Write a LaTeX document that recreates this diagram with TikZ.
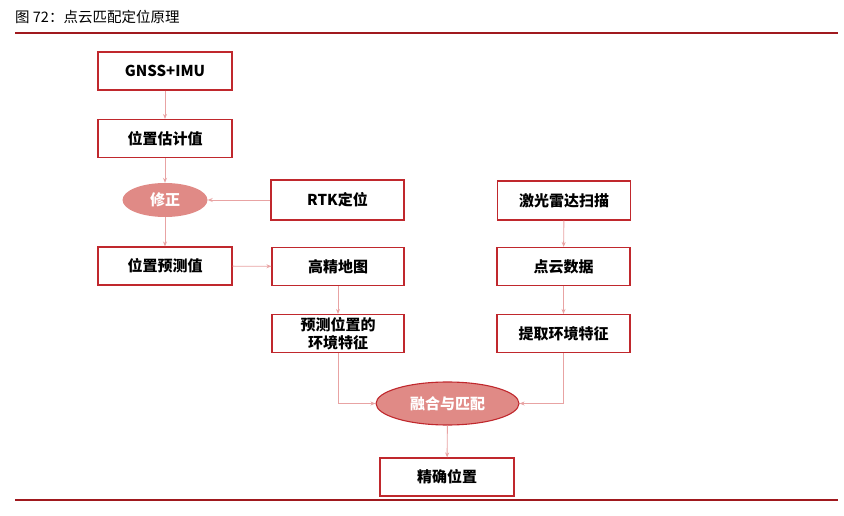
\documentclass[tikz,border=0pt]{standalone}
\usepackage{fontspec}
\setmainfont{Liberation Sans}
\newfontfamily\cjk{Noto Sans CJK SC}
\usetikzlibrary{shapes.geometric,arrows.meta}
\definecolor{boxred}{HTML}{C0282D}
\definecolor{linered}{HTML}{A0191E}
\definecolor{arrpink}{HTML}{E8A3A3}
\definecolor{ellfill}{HTML}{E08A86}
\tikzset{
  box/.style={draw=boxred, line width=1.1pt, minimum width=134pt, minimum height=38pt, inner sep=1pt, align=center, font=\cjk\bfseries\fontsize{15}{18}\selectfont, text=black},
  oval/.style={ellipse, fill=ellfill, inner sep=0pt, text=white, font=\cjk\bfseries\fontsize{15}{18}\selectfont},
  conn/.style={draw=arrpink, line width=0.9pt, -{Stealth[length=5pt,width=4pt]}},
}
\begin{document}
\begin{tikzpicture}[x=1pt,y=-1pt]
\useasboundingbox (0,0) rectangle (844,516);
\node[anchor=west, font=\cjk\fontsize{14.5}{17}\selectfont, inner sep=0pt] (title) at (15,17) {图 72：点云匹配定位原理};
\coordinate (tl1) at (15,33); \coordinate (tl2) at (838,33);
\coordinate (bl1) at (15,500); \coordinate (bl2) at (838,500);
\draw[linered, line width=1.6pt] (tl1) -- (tl2);
\draw[linered, line width=1.6pt] (bl1) -- (bl2);

\node[box] (gnss) at (165,71) {GNSS+IMU};
\node[box] (est) at (165,138.5) {位置估计值};
\node[oval, minimum width=85pt, minimum height=34pt] (fix) at (165,200) {修正};
\node[box, minimum width=133pt, minimum height=40pt] (rtk) at (337.5,200) {RTK定位};
\node[box] (pred) at (165,266) {位置预测值};
\node[box, minimum width=132pt] (map) at (338,266.5) {高精地图};
\node[box, minimum width=132pt, font=\cjk\bfseries\fontsize{15}{18}\selectfont] (feat) at (338,333.5) {预测位置的\\环境特征};
\node[box, minimum width=133pt, minimum height=39pt] (lidar) at (564,200.5) {激光雷达扫描};
\node[box, minimum width=133pt] (pc) at (563.5,266.5) {点云数据};
\node[box, minimum width=133pt] (ext) at (563.5,333.5) {提取环境特征};
\node[oval, draw=boxred, line width=1.1pt, minimum width=143pt, minimum height=43pt] (fuse) at (447.5,403.5) {融合与匹配};
\node[box] (exact) at (447,477) {精确位置};

\draw[conn] (gnss) -- (est);
\draw[conn] (est) -- (fix);
\draw[conn] (rtk.west) -- (fix.east);
\draw[conn] (fix) -- (pred);
\draw[conn] (pred) -- (map);
\draw[conn] (map) -- (feat);
\draw[conn] (lidar) -- (pc);
\draw[conn] (pc) -- (ext);
\draw[conn] (feat.south) |- (fuse.west);
\draw[conn] (ext.south) |- (fuse.east);
\draw[conn] (fuse) -- (exact);
\end{tikzpicture}
\end{document}
